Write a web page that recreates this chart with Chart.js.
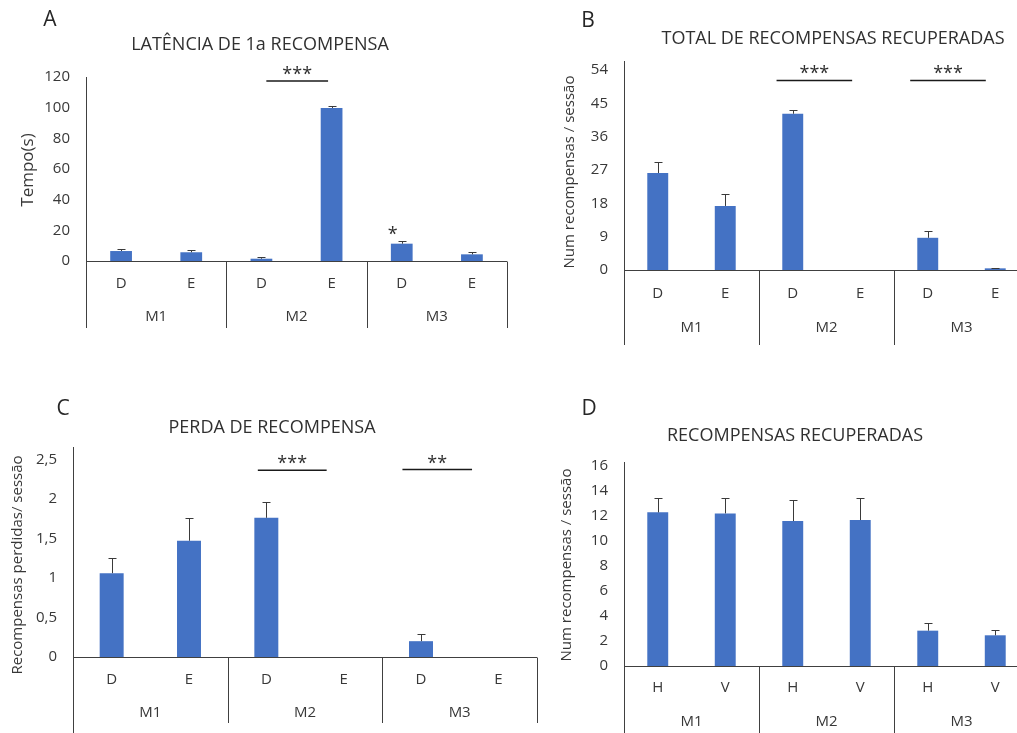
<!DOCTYPE html>
<html>
<head>
<meta charset="utf-8">
<script src="https://cdn.jsdelivr.net/npm/chart.js@4/dist/chart.umd.min.js"></script>
<style>
  html, body { margin: 0; padding: 0; background: #ffffff; }
  #page { position: relative; width: 1017px; height: 733px; overflow: hidden; background: #ffffff; }
  #page canvas { position: absolute; }
</style>
</head>
<body>
<div id="page"></div>
<script>
// ---- data ----
const groups = ['M1', 'M2', 'M3'];
const sidesDE = ['D', 'E', 'D', 'E', 'D', 'E'];
const sidesHV = ['H', 'V', 'H', 'V', 'H', 'V'];

// A: latency to first reward (s)
const latencyMean = [6.5, 5.7, 1.5, 99.8, 11.3, 4.35];
const latencyErr  = [1.3, 1.5, 1.1, 1.1, 1.5, 1.3];
const latencyTicks = [0, 20, 40, 60, 80, 100, 120];

// B: total rewards retrieved per session
const totalMean = [26.2, 17.3, 42.2, 0, 8.7, 0.45];
const totalErr  = [3.1, 3.3, 1.1, 0, 1.7, 0.15];
const totalTicks = [0, 9, 18, 27, 36, 45, 54];

// C: rewards lost per session
const lossMean = [1.06, 1.47, 1.76, 0, 0.20, 0];
const lossErr  = [0.19, 0.29, 0.20, 0, 0.085, 0];
const lossTicks = [0, 0.5, 1, 1.5, 2, 2.5];

// D: rewards retrieved per session (H / V)
const hvMean = [12.26, 12.18, 11.57, 11.65, 2.82, 2.45];
const hvErr  = [1.12, 1.2, 1.65, 1.73, 0.58, 0.42];
const hvTicks = [0, 2, 4, 6, 8, 10, 12, 14, 16];

// ---- styling ----
const FONT = '"Open Sans", "Noto Sans", sans-serif';
const TEXT = '#383838';
const LINE = '#404040';
const BAR = '#4472C4';

// Draws the axis frame, group labels, error bars, significance marks and titles
const panelDecor = {
  id: 'panelDecor',
  afterDatasetsDraw(chart, args, o) {
    const ctx = chart.ctx;
    const xs = chart.scales.x, ys = chart.scales.y;
    const area = chart.chartArea;
    const slot = (area.right - area.left) / xs.ticks.length;
    const crisp = v => Math.round(v) + 0.5;
    ctx.save();

    // axis frame
    ctx.strokeStyle = LINE;
    ctx.lineWidth = 1;
    ctx.beginPath();
    const zeroY = crisp(ys.getPixelForValue(0));
    ctx.moveTo(crisp(area.left), Math.round(area.top));
    ctx.lineTo(crisp(area.left), o.yAxisBottom);
    ctx.moveTo(area.left, zeroY);
    ctx.lineTo(area.right, zeroY);
    for (let k = 1; k <= groups.length; k++) {
      const x = crisp(area.left + k * 2 * slot);
      ctx.moveTo(x, zeroY);
      ctx.lineTo(x, o.sepBottom);
    }
    ctx.stroke();

    // group labels under each pair of bars
    ctx.fillStyle = TEXT;
    ctx.font = '15px ' + FONT;
    ctx.textAlign = 'center';
    ctx.textBaseline = 'middle';
    groups.forEach((g, i) => {
      const x = (xs.getPixelForValue(2 * i) + xs.getPixelForValue(2 * i + 1)) / 2;
      ctx.fillText(g, x, o.groupY);
    });

    // error bars (upper whisker with cap)
    const meta = chart.getDatasetMeta(0);
    const vals = chart.data.datasets[0].data;
    ctx.strokeStyle = '#3a3a3a';
    ctx.beginPath();
    meta.data.forEach((el, i) => {
      if (!o.err[i]) return;
      const x = crisp(el.x);
      const y0 = ys.getPixelForValue(vals[i]);
      const y1 = crisp(ys.getPixelForValue(vals[i] + o.err[i]));
      ctx.moveTo(x, y0);
      ctx.lineTo(x, y1);
      ctx.moveTo(x - 4, y1);
      ctx.lineTo(x + 4, y1);
    });
    ctx.stroke();

    // significance brackets
    ctx.strokeStyle = '#1a1a1a';
    ctx.lineWidth = 1.5;
    ctx.fillStyle = '#2e2e2e';
    ctx.font = '18px ' + FONT;
    ctx.textBaseline = 'alphabetic';
    (o.brackets || []).forEach(b => {
      const xa = area.left + b.from * slot;
      const xb = area.left + b.to * slot;
      const y = ys.getPixelForValue(b.at);
      if (b.line) {
        ctx.beginPath();
        ctx.moveTo(xa, y);
        ctx.lineTo(xb, y);
        ctx.stroke();
      }
      ctx.fillText(b.text, (xa + xb) / 2, y - (b.line ? 1 : -3));
    });

    // panel letter and chart title
    ctx.fillStyle = '#262626';
    ctx.font = '21px ' + FONT;
    ctx.fillText(o.letter[0], o.letter[1], o.letter[2]);
    ctx.fillStyle = '#303030';
    ctx.font = '18px ' + FONT;
    ctx.fillText(o.title[0], o.title[1], o.title[2]);

    // value axis title
    ctx.fillStyle = TEXT;
    ctx.font = o.yTitleSize + 'px ' + FONT;
    ctx.textBaseline = 'middle';
    ctx.translate(o.yTitle[1], o.yTitle[2]);
    ctx.rotate(-Math.PI / 2);
    ctx.fillText(o.yTitle[0], 0, 0);
    ctx.restore();
  }
};

// Build one panel: canvas placed on the page, plot area fixed in page coordinates
function panel(p) {
  const cv = document.createElement('canvas');
  cv.width = p.box.w; cv.height = p.box.h;
  cv.style.left = p.box.x + 'px'; cv.style.top = p.box.y + 'px';
  cv.style.width = p.box.w + 'px'; cv.style.height = p.box.h + 'px';
  document.getElementById('page').appendChild(cv);
  const lx = v => v - p.box.x, ly = v => v - p.box.y;
  const tickFmt = p.fmt || (v => String(v));
  new Chart(cv, {
    type: 'bar',
    data: {
      labels: p.labels,
      datasets: [{ data: p.values, backgroundColor: BAR, barPercentage: 0.31, categoryPercentage: 1 }]
    },
    options: {
      responsive: false,
      animation: false,
      devicePixelRatio: 1,
      layout: { padding: { left: 0, top: ly(p.plot.top), right: p.box.w - lx(p.plot.right), bottom: 0 } },
      plugins: {
        legend: { display: false },
        tooltip: { enabled: false },
        panelDecor: {
          err: p.err,
          groupY: ly(p.groupY),
          sepBottom: ly(p.sepBottom),
          yAxisBottom: ly(p.yAxisBottom),
          brackets: p.brackets,
          letter: [p.letter[0], lx(p.letter[1]), ly(p.letter[2])],
          title: [p.title[0], lx(p.title[1]), ly(p.title[2])],
          yTitle: [p.yTitle[0], lx(p.yTitle[1]), ly(p.yTitle[2])],
          yTitleSize: p.yTitleSize || 15
        }
      },
      scales: {
        x: {
          type: 'category',
          offset: true,
          grid: { display: false, drawTicks: false },
          border: { display: false },
          ticks: { color: TEXT, font: { family: FONT, size: 15 }, padding: p.xPad, maxRotation: 0, autoSkip: false },
          afterFit(s) { s.height = p.box.h - ly(p.plot.zero); }
        },
        y: {
          min: 0,
          max: p.max,
          grid: { display: false, drawTicks: false },
          border: { display: false },
          ticks: { color: TEXT, font: { family: FONT, size: 15 }, padding: 16, callback: v => tickFmt(v) },
          afterBuildTicks(s) { s.ticks = p.ticks.map(v => ({ value: v })); },
          afterFit(s) { s.width = lx(p.plot.left); }
        }
      }
    },
    plugins: [panelDecor]
  });
}

panel({
  box: { x: 0, y: 0, w: 520, h: 335 },
  plot: { left: 86, right: 507, top: 77, zero: 261 },
  labels: sidesDE, values: latencyMean, err: latencyErr, ticks: latencyTicks, max: 120,
  xPad: 14, groupY: 317, sepBottom: 328, yAxisBottom: 328,
  letter: ['A', 50, 26], title: ['LATÊNCIA DE 1a RECOMPENSA', 260, 50],
  yTitle: ['Tempo(s)', 28, 170], yTitleSize: 17,
  brackets: [
    { from: 2.57, to: 3.45, at: 117.4, text: '***', line: true },
    { from: 4.25, to: 4.49, at: 15.5, text: '*', line: false }
  ]
});

panel({
  box: { x: 520, y: 0, w: 520, h: 345 },
  plot: { left: 624, right: 1029, top: 61, zero: 270 },
  labels: sidesDE, values: totalMean, err: totalErr, ticks: totalTicks, max: 56.45,
  xPad: 15, groupY: 328, sepBottom: 345, yAxisBottom: 345,
  letter: ['B', 588, 27], title: ['TOTAL DE RECOMPENSAS RECUPERADAS', 833, 44],
  yTitle: ['Num recompensas / sessão', 570, 172],
  brackets: [
    { from: 2.26, to: 3.38, at: 51.2, text: '***', line: true },
    { from: 4.24, to: 5.36, at: 51.2, text: '***', line: true }
  ]
});

panel({
  box: { x: 0, y: 385, w: 545, h: 348 },
  plot: { left: 73, right: 537, top: 447, zero: 657 },
  labels: sidesDE, values: lossMean, err: lossErr, ticks: lossTicks, max: 2.655,
  fmt: v => String(v).replace('.', ','),
  xPad: 14, groupY: 713, sepBottom: 723, yAxisBottom: 733,
  letter: ['C', 63, 415], title: ['PERDA DE RECOMPENSA', 272, 433],
  yTitle: ['Recompensas perdidas/ sessão', 18, 565],
  brackets: [
    { from: 2.39, to: 3.28, at: 2.36, text: '***', line: true },
    { from: 4.26, to: 5.16, at: 2.37, text: '**', line: true }
  ]
});

panel({
  box: { x: 520, y: 385, w: 520, h: 348 },
  plot: { left: 624, right: 1029, top: 462, zero: 666 },
  labels: sidesHV, values: hvMean, err: hvErr, ticks: hvTicks, max: 16.28,
  xPad: 13, groupY: 722, sepBottom: 733, yAxisBottom: 733,
  letter: ['D', 589, 415], title: ['RECOMPENSAS RECUPERADAS', 795, 441],
  yTitle: ['Num recompensas / sessão', 567, 565],
  brackets: []
});
</script>
</body>
</html>
